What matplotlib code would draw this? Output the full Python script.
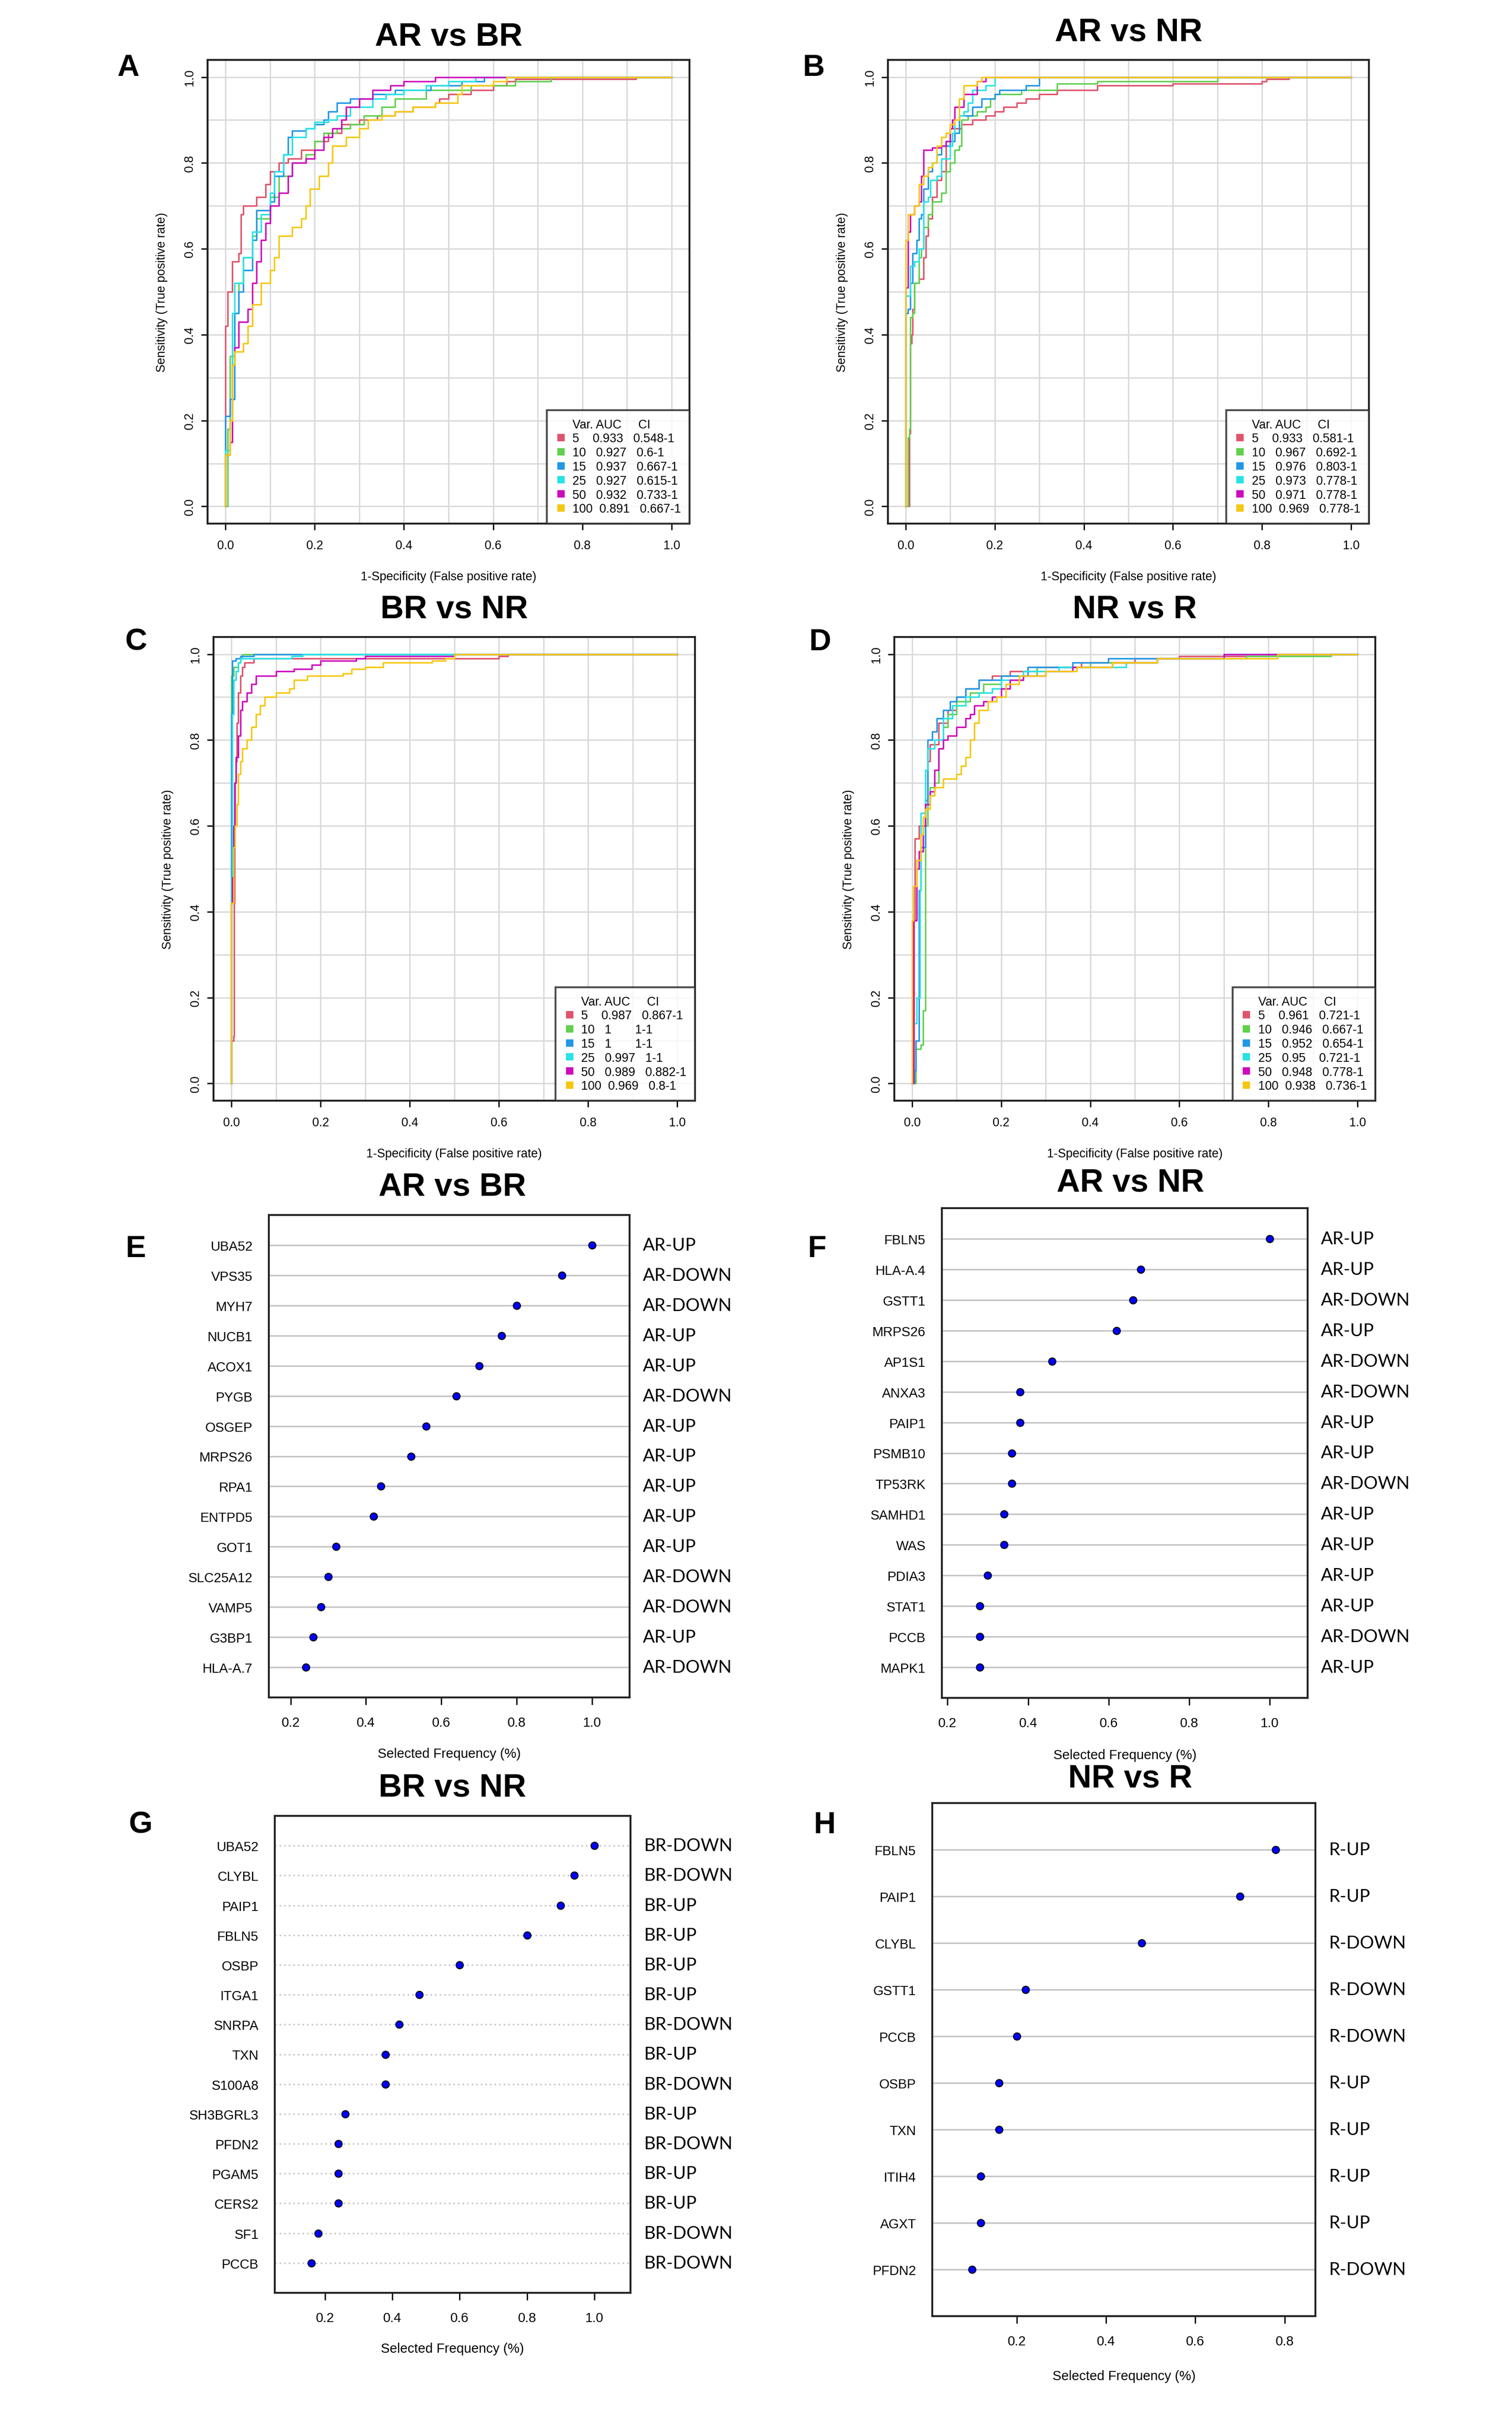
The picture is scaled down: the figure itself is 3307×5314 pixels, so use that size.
import matplotlib
matplotlib.use('Agg')
import matplotlib.pyplot as plt
from matplotlib.lines import Line2D
from matplotlib.ticker import FormatStrFormatter
import numpy as np

plt.rcParams['font.family'] = ['Liberation Sans', 'DejaVu Sans']

# ---------------- data ----------------
var_sizes = ['5', '10', '15', '25', '50', '100']
roc_colors = ["#DF536B", "#61D04F", "#2297E6", "#28E2E5", "#CD0BBC", "#F5C710"]

# Panel A: AR vs BR  (fpr, tpr) vertices of step ROC curves
rocA_5 = [(0,0),(0,0.42),(0.005,0.50),(0.015,0.57),(0.03,0.59),(0.035,0.68),(0.04,0.70),(0.07,0.72),(0.09,0.75),(0.10,0.78),(0.12,0.80),(0.14,0.81),(0.17,0.83),(0.20,0.85),(0.23,0.87),(0.26,0.89),(0.30,0.90),(0.34,0.91),(0.38,0.92),(0.42,0.93),(0.47,0.94),(0.48,0.95),(0.50,0.96),(0.55,0.97),(0.60,0.98),(0.63,0.99),(0.65,0.995),(0.92,1.0),(1,1)]
rocA_10 = [(0,0),(0.005,0.18),(0.01,0.35),(0.02,0.45),(0.03,0.52),(0.04,0.58),(0.06,0.63),(0.07,0.67),(0.10,0.72),(0.12,0.77),(0.15,0.80),(0.18,0.82),(0.20,0.85),(0.22,0.87),(0.25,0.88),(0.28,0.89),(0.31,0.91),(0.35,0.93),(0.38,0.95),(0.45,0.97),(0.55,0.98),(0.65,0.99),(0.73,1.0),(1,1)]
rocA_15 = [(0,0),(0,0.21),(0.01,0.25),(0.02,0.45),(0.03,0.50),(0.04,0.55),(0.06,0.62),(0.07,0.69),(0.10,0.71),(0.11,0.77),(0.13,0.82),(0.14,0.86),(0.15,0.875),(0.18,0.88),(0.20,0.89),(0.22,0.90),(0.23,0.92),(0.25,0.94),(0.28,0.95),(0.33,0.96),(0.38,0.97),(0.46,0.98),(0.53,0.99),(0.58,1.0),(1,1)]
rocA_25 = [(0,0),(0,0.13),(0.01,0.20),(0.015,0.45),(0.02,0.52),(0.04,0.58),(0.06,0.64),(0.08,0.68),(0.10,0.73),(0.11,0.78),(0.13,0.82),(0.15,0.86),(0.18,0.88),(0.20,0.895),(0.23,0.90),(0.25,0.91),(0.28,0.93),(0.33,0.95),(0.36,0.96),(0.40,0.97),(0.45,0.98),(0.50,0.99),(0.56,1.0),(1,1)]
rocA_50 = [(0,0),(0,0.12),(0.01,0.15),(0.015,0.33),(0.02,0.37),(0.03,0.43),(0.05,0.46),(0.06,0.52),(0.07,0.57),(0.08,0.62),(0.09,0.66),(0.10,0.70),(0.12,0.73),(0.14,0.77),(0.15,0.80),(0.18,0.81),(0.20,0.83),(0.22,0.86),(0.24,0.88),(0.26,0.90),(0.27,0.93),(0.30,0.95),(0.33,0.97),(0.37,0.98),(0.40,0.99),(0.47,1.0),(1,1)]
rocA_100 = [(0,0),(0,0.12),(0.01,0.20),(0.015,0.33),(0.02,0.36),(0.04,0.38),(0.05,0.42),(0.06,0.47),(0.08,0.52),(0.10,0.55),(0.11,0.58),(0.12,0.63),(0.15,0.65),(0.17,0.67),(0.18,0.70),(0.19,0.74),(0.21,0.77),(0.23,0.80),(0.24,0.84),(0.27,0.86),(0.30,0.88),(0.32,0.90),(0.35,0.91),(0.38,0.92),(0.42,0.93),(0.47,0.94),(0.52,0.96),(0.53,0.98),(0.60,0.99),(0.63,1.0),(1,1)]
aucA = ['0.933', '0.927', '0.937', '0.927', '0.932', '0.891']
ciA = ['0.548-1', '0.6-1', '0.667-1', '0.615-1', '0.733-1', '0.667-1']

# Panel B: AR vs NR
rocB_5 = [(0,0),(0.008,0.17),(0.01,0.38),(0.013,0.40),(0.015,0.46),(0.02,0.52),(0.03,0.53),(0.04,0.58),(0.045,0.63),(0.05,0.67),(0.06,0.72),(0.07,0.76),(0.08,0.78),(0.09,0.85),(0.10,0.88),(0.125,0.89),(0.15,0.90),(0.18,0.91),(0.20,0.92),(0.22,0.93),(0.25,0.94),(0.27,0.95),(0.30,0.96),(0.34,0.97),(0.43,0.98),(0.60,0.985),(0.80,0.99),(0.81,0.995),(0.86,1.0),(1,1)]
rocB_10 = [(0,0),(0.005,0.16),(0.008,0.18),(0.01,0.44),(0.015,0.45),(0.02,0.52),(0.03,0.58),(0.035,0.60),(0.04,0.65),(0.05,0.68),(0.06,0.71),(0.08,0.73),(0.09,0.78),(0.10,0.80),(0.11,0.83),(0.12,0.84),(0.125,0.90),(0.14,0.91),(0.16,0.92),(0.18,0.93),(0.19,0.95),(0.20,0.96),(0.26,0.97),(0.34,0.985),(0.43,0.99),(0.70,1.0),(1,1)]
rocB_15 = [(0,0),(0,0.45),(0.005,0.46),(0.01,0.52),(0.015,0.59),(0.025,0.62),(0.03,0.67),(0.035,0.68),(0.04,0.74),(0.05,0.78),(0.06,0.80),(0.07,0.82),(0.08,0.84),(0.10,0.85),(0.11,0.87),(0.12,0.91),(0.15,0.93),(0.17,0.95),(0.20,0.96),(0.21,0.97),(0.27,0.98),(0.30,1.0),(1,1)]
rocB_25 = [(0,0),(0,0.49),(0.01,0.56),(0.02,0.57),(0.03,0.60),(0.04,0.71),(0.05,0.72),(0.055,0.76),(0.07,0.77),(0.08,0.81),(0.10,0.84),(0.105,0.87),(0.11,0.90),(0.12,0.91),(0.13,0.92),(0.14,0.94),(0.15,0.97),(0.18,0.98),(0.20,1.0),(1,1)]
rocB_50 = [(0,0),(0,0.51),(0.005,0.64),(0.01,0.68),(0.02,0.70),(0.03,0.71),(0.035,0.77),(0.04,0.83),(0.06,0.835),(0.08,0.84),(0.09,0.85),(0.10,0.88),(0.105,0.90),(0.11,0.93),(0.13,0.96),(0.16,0.99),(0.18,1.0),(1,1)]
rocB_100 = [(0,0),(0,0.62),(0.005,0.68),(0.02,0.70),(0.03,0.75),(0.04,0.77),(0.05,0.79),(0.06,0.80),(0.07,0.84),(0.08,0.86),(0.09,0.87),(0.10,0.89),(0.11,0.90),(0.12,0.95),(0.13,0.98),(0.16,0.99),(0.17,1.0),(1,1)]
aucB = ['0.933', '0.967', '0.976', '0.973', '0.971', '0.969']
ciB = ['0.581-1', '0.692-1', '0.803-1', '0.778-1', '0.778-1', '0.778-1']

# Panel C: BR vs NR
rocC_5 = [(0,0),(0,0.10),(0.005,0.11),(0.006,0.42),(0.007,0.60),(0.008,0.70),(0.01,0.75),(0.012,0.84),(0.015,0.91),(0.02,0.95),(0.025,0.97),(0.03,0.98),(0.05,0.99),(0.60,0.995),(0.62,1.0),(1,1)]
rocC_10 = [(0,0),(0,0.95),(0.005,0.97),(0.015,0.98),(0.02,0.99),(0.025,1.0),(1,1)]
rocC_15 = [(0,0),(0,0.86),(0.002,0.985),(0.01,0.99),(0.02,0.995),(0.05,1.0),(1,1)]
rocC_25 = [(0,0),(0,0.48),(0.002,0.86),(0.005,0.94),(0.01,0.96),(0.015,0.98),(0.02,0.99),(0.135,0.995),(0.16,1.0),(1,1)]
rocC_50 = [(0,0),(0,0.42),(0.002,0.48),(0.005,0.60),(0.007,0.70),(0.01,0.76),(0.015,0.81),(0.02,0.87),(0.025,0.89),(0.035,0.91),(0.045,0.93),(0.055,0.95),(0.10,0.96),(0.14,0.965),(0.18,0.975),(0.20,0.985),(0.28,0.99),(0.30,0.995),(0.50,1.0),(1,1)]
rocC_100 = [(0,0),(0,0.42),(0.005,0.55),(0.008,0.60),(0.012,0.65),(0.015,0.72),(0.02,0.75),(0.025,0.78),(0.035,0.80),(0.045,0.83),(0.055,0.86),(0.065,0.88),(0.075,0.90),(0.10,0.91),(0.13,0.92),(0.14,0.94),(0.17,0.95),(0.25,0.955),(0.27,0.965),(0.30,0.97),(0.34,0.98),(0.45,0.985),(0.48,0.99),(0.50,1.0),(1,1)]
aucC = ['0.987', '1', '1', '0.997', '0.989', '0.969']
ciC = ['0.867-1', '1-1', '1-1', '1-1', '0.882-1', '0.8-1']

# Panel D: NR vs R
rocD_5 = [(0,0),(0.003,0.01),(0.004,0.38),(0.006,0.57),(0.015,0.60),(0.03,0.66),(0.035,0.75),(0.04,0.79),(0.06,0.84),(0.08,0.87),(0.10,0.90),(0.12,0.92),(0.15,0.94),(0.18,0.95),(0.22,0.96),(0.28,0.97),(0.38,0.98),(0.50,0.99),(0.60,0.995),(0.80,1.0),(1,1)]
rocD_10 = [(0,0),(0.008,0.08),(0.02,0.09),(0.025,0.17),(0.03,0.60),(0.035,0.65),(0.04,0.69),(0.05,0.70),(0.06,0.78),(0.07,0.83),(0.08,0.86),(0.10,0.89),(0.13,0.91),(0.16,0.93),(0.20,0.95),(0.28,0.97),(0.40,0.98),(0.55,0.99),(0.75,0.995),(0.94,1.0),(1,1)]
rocD_15 = [(0,0),(0.005,0.03),(0.008,0.10),(0.015,0.45),(0.02,0.55),(0.03,0.65),(0.035,0.80),(0.045,0.82),(0.055,0.85),(0.07,0.87),(0.085,0.89),(0.10,0.90),(0.12,0.92),(0.15,0.94),(0.20,0.95),(0.26,0.97),(0.36,0.98),(0.44,0.99),(0.70,1.0),(1,1)]
rocD_25 = [(0,0),(0.003,0.14),(0.01,0.20),(0.018,0.45),(0.02,0.63),(0.03,0.73),(0.035,0.78),(0.05,0.80),(0.07,0.85),(0.09,0.88),(0.12,0.90),(0.15,0.91),(0.18,0.92),(0.20,0.94),(0.25,0.96),(0.33,0.97),(0.48,0.98),(0.55,0.99),(0.70,1.0),(1,1)]
rocD_50 = [(0,0),(0.003,0.38),(0.01,0.50),(0.015,0.54),(0.025,0.60),(0.03,0.65),(0.04,0.68),(0.05,0.73),(0.06,0.78),(0.07,0.80),(0.08,0.81),(0.10,0.83),(0.12,0.85),(0.13,0.86),(0.14,0.88),(0.16,0.89),(0.18,0.90),(0.20,0.92),(0.22,0.94),(0.25,0.95),(0.30,0.96),(0.36,0.97),(0.45,0.98),(0.55,0.99),(0.70,1.0),(1,1)]
rocD_100 = [(0,0),(0,0.38),(0.003,0.46),(0.01,0.52),(0.02,0.58),(0.025,0.62),(0.03,0.64),(0.04,0.67),(0.05,0.69),(0.07,0.71),(0.10,0.72),(0.11,0.74),(0.12,0.76),(0.13,0.80),(0.14,0.84),(0.15,0.87),(0.17,0.89),(0.19,0.90),(0.21,0.93),(0.24,0.95),(0.30,0.96),(0.37,0.97),(0.45,0.98),(0.55,0.99),(0.82,1.0),(1,1)]
aucD = ['0.961', '0.946', '0.952', '0.95', '0.948', '0.938']
ciD = ['0.721-1', '0.667-1', '0.654-1', '0.721-1', '0.778-1', '0.736-1']

# Panel E: AR vs BR selected features
genesE = ['UBA52', 'VPS35', 'MYH7', 'NUCB1', 'ACOX1', 'PYGB', 'OSGEP', 'MRPS26', 'RPA1',
          'ENTPD5', 'GOT1', 'SLC25A12', 'VAMP5', 'G3BP1', 'HLA-A.7']
freqE = [1.00, 0.92, 0.80, 0.76, 0.70, 0.64, 0.56, 0.52, 0.44, 0.42, 0.32, 0.30, 0.28, 0.26, 0.24]
tagsE = ['AR-UP', 'AR-DOWN', 'AR-DOWN', 'AR-UP', 'AR-UP', 'AR-DOWN', 'AR-UP', 'AR-UP', 'AR-UP',
         'AR-UP', 'AR-UP', 'AR-DOWN', 'AR-DOWN', 'AR-UP', 'AR-DOWN']

# Panel F: AR vs NR
genesF = ['FBLN5', 'HLA-A.4', 'GSTT1', 'MRPS26', 'AP1S1', 'ANXA3', 'PAIP1', 'PSMB10', 'TP53RK',
          'SAMHD1', 'WAS', 'PDIA3', 'STAT1', 'PCCB', 'MAPK1']
freqF = [1.00, 0.68, 0.66, 0.62, 0.46, 0.38, 0.38, 0.36, 0.36, 0.34, 0.34, 0.30, 0.28, 0.28, 0.28]
tagsF = ['AR-UP', 'AR-UP', 'AR-DOWN', 'AR-UP', 'AR-DOWN', 'AR-DOWN', 'AR-UP', 'AR-UP', 'AR-DOWN',
         'AR-UP', 'AR-UP', 'AR-UP', 'AR-UP', 'AR-DOWN', 'AR-UP']

# Panel G: BR vs NR
genesG = ['UBA52', 'CLYBL', 'PAIP1', 'FBLN5', 'OSBP', 'ITGA1', 'SNRPA', 'TXN', 'S100A8',
          'SH3BGRL3', 'PFDN2', 'PGAM5', 'CERS2', 'SF1', 'PCCB']
freqG = [1.00, 0.94, 0.90, 0.80, 0.60, 0.48, 0.42, 0.38, 0.38, 0.26, 0.24, 0.24, 0.24, 0.18, 0.16]
tagsG = ['BR-DOWN', 'BR-DOWN', 'BR-UP', 'BR-UP', 'BR-UP', 'BR-UP', 'BR-DOWN', 'BR-UP', 'BR-DOWN',
         'BR-UP', 'BR-DOWN', 'BR-UP', 'BR-UP', 'BR-DOWN', 'BR-DOWN']

# Panel H: NR vs R
genesH = ['FBLN5', 'PAIP1', 'CLYBL', 'GSTT1', 'PCCB', 'OSBP', 'TXN', 'ITIH4', 'AGXT', 'PFDN2']
freqH = [0.78, 0.70, 0.48, 0.22, 0.20, 0.16, 0.16, 0.12, 0.12, 0.10]
tagsH = ['R-UP', 'R-UP', 'R-DOWN', 'R-DOWN', 'R-DOWN', 'R-UP', 'R-UP', 'R-UP', 'R-UP', 'R-DOWN']

# ---------------- figure ----------------
W, H = 3307, 5315
DPI = 300
fig = plt.figure(figsize=(W / DPI, H / DPI), dpi=DPI)
fig.patch.set_facecolor('white')

FS = 6.4


def rect_px(left, top, right, bottom):
    return [left / W, 1 - bottom / H, (right - left) / W, (bottom - top) / H]


def fig_text(x, y, s, size, weight='bold'):
    fig.text(x / W, 1 - y / H, s, ha='center', va='center', fontsize=size, fontweight=weight,
             family=['Liberation Sans', 'DejaVu Sans'])


def roc_panel(rect, curves, aucs, cis):
    ax = fig.add_axes(rect)
    ax.set_xlim(-0.04, 1.04)
    ax.set_ylim(-0.04, 1.04)
    major = np.round(np.arange(0, 1.01, 0.2), 1)
    minor = np.round(np.arange(0.1, 1.0, 0.2), 1)
    ax.set_xticks(major)
    ax.set_yticks(major)
    ax.set_xticks(minor, minor=True)
    ax.set_yticks(minor, minor=True)
    ax.grid(which='both', color='#d9d9d9', lw=0.7, zorder=0)
    ax.set_axisbelow(True)
    for pts, col in zip(curves, roc_colors):
        xs = [p[0] for p in pts]
        ys = [p[1] for p in pts]
        ax.plot(xs, ys, drawstyle='steps-post', color=col, lw=0.8, zorder=3)
    ax.xaxis.set_major_formatter(FormatStrFormatter('%.1f'))
    ax.yaxis.set_major_formatter(FormatStrFormatter('%.1f'))
    ax.tick_params(which='major', direction='out', length=3.3, width=0.7, labelsize=FS, color='black')
    ax.tick_params(axis='x', which='major', pad=5)
    ax.tick_params(axis='y', which='major', pad=3)
    ax.tick_params(which='minor', length=0)
    for lab in ax.get_yticklabels():
        lab.set_rotation(90)
        lab.set_va('center')
    for s in ax.spines.values():
        s.set_linewidth(1.0)
        s.set_color('#222222')
    ax.set_xlabel('1-Specificity (False positive rate)', fontsize=FS)
    ax.set_ylabel('Sensitivity (True positive rate)', fontsize=FS)
    ax.xaxis.set_label_coords(0.5, -0.114)
    ax.xaxis.label.set_va('center')
    ax.yaxis.set_label_coords(-0.095, 0.5)
    ax.yaxis.label.set_va('center')
    handles = [Line2D([], [], ls='none', marker=None)]
    labels = ['Var. AUC     CI']
    for v, a, c, col in zip(var_sizes, aucs, cis, roc_colors):
        handles.append(Line2D([], [], ls='none', marker='s', ms=3, mfc=col, mec=col))
        labels.append(v.ljust(5) + a.ljust(8) + c)
    leg = ax.legend(handles, labels, loc='lower right', borderaxespad=0, fontsize=FS,
                    frameon=True, fancybox=False, edgecolor='#222222', handlelength=0.9,
                    handletextpad=0.5, labelspacing=0.18, borderpad=0.7)
    leg.get_frame().set_linewidth(1.0)
    leg.set_zorder(5)
    return ax


def dot_panel(rect, genes, vals, tags, xlim, xticks, linestyle):
    ax = fig.add_axes(rect)
    n = len(genes)
    ypos = np.arange(n, 0, -1)
    for yv in ypos:
        ax.axhline(yv, color='#c4c4c4', lw=0.8, ls=linestyle, zorder=1)
    ax.plot(vals, ypos, ls='none', marker='o', ms=3.8, mfc='#0000FF', mec='black', mew=0.5, zorder=3)
    ax.set_xlim(*xlim)
    ax.set_ylim(0, n + 1)
    ax.set_yticks(ypos)
    ax.set_yticklabels(genes, fontsize=7)
    ax.tick_params(axis='y', length=0, pad=8.5)
    ax.set_xticks(xticks)
    ax.xaxis.set_major_formatter(FormatStrFormatter('%.1f'))
    ax.tick_params(axis='x', direction='out', length=3.8, width=0.7, labelsize=7, pad=6)
    for s in ax.spines.values():
        s.set_linewidth(1.0)
        s.set_color('#222222')
    ax.set_xlabel('Selected Frequency (%)', fontsize=7)
    ax.xaxis.set_label_coords(0.5, -0.117)
    ax.xaxis.label.set_va('center')
    for yv, t in zip(ypos, tags):
        ax.annotate(t, xy=(1, yv), xycoords=('axes fraction', 'data'), xytext=(7, 0),
                    textcoords='offset points', ha='left', va='center', fontsize=9.3,
                    family=['Lato', 'DejaVu Sans'])
    return ax


# ROC panels
roc_panel(rect_px(454, 132, 1508, 1146), [rocA_5, rocA_10, rocA_15, rocA_25, rocA_50, rocA_100], aucA, ciA)
roc_panel(rect_px(1942, 132, 2994, 1146), [rocB_5, rocB_10, rocB_15, rocB_25, rocB_50, rocB_100], aucB, ciB)
roc_panel(rect_px(467, 1394, 1520, 2408), [rocC_5, rocC_10, rocC_15, rocC_25, rocC_50, rocC_100], aucC, ciC)
roc_panel(rect_px(1956, 1394, 3008, 2408), [rocD_5, rocD_10, rocD_15, rocD_25, rocD_50, rocD_100], aucD, ciD)

# dot panels
dot_panel(rect_px(588, 2658, 1377, 3713), genesE, freqE, tagsE, (0.142, 1.10), [0.2, 0.4, 0.6, 0.8, 1.0], '-')
dot_panel(rect_px(2060, 2643, 2860, 3714), genesF, freqF, tagsF, (0.186, 1.094), [0.2, 0.4, 0.6, 0.8, 1.0], '-')
dot_panel(rect_px(601, 3972, 1379, 5015), genesG, freqG, tagsG, (0.051, 1.107), [0.2, 0.4, 0.6, 0.8, 1.0], (0, (1, 2)))
dot_panel(rect_px(2039, 3944, 2877, 5066), genesH, freqH, tagsH, (0.011, 0.869), [0.2, 0.4, 0.6, 0.8], '-')

# titles
TS = 17
fig_text(981, 81, 'AR vs BR', TS)
fig_text(2468, 71, 'AR vs NR', TS)
fig_text(993, 1334, 'BR vs NR', TS)
fig_text(2482, 1334, 'NR vs R', TS)
fig_text(989, 2597, 'AR vs BR', TS)
fig_text(2472, 2587, 'AR vs NR', TS)
fig_text(989, 3911, 'BR vs NR', TS)
fig_text(2472, 3891, 'NR vs R', TS)

# panel letters
LS = 16
fig_text(280, 149, 'A', LS)
fig_text(1780, 149, 'B', LS)
fig_text(297, 1405, 'C', LS)
fig_text(1794, 1405, 'D', LS)
fig_text(297, 2732, 'E', LS)
fig_text(1787, 2732, 'F', LS)
fig_text(307, 3992, 'G', LS)
fig_text(1804, 3992, 'H', LS)

fig.savefig('out.png', dpi=DPI, facecolor='white')
